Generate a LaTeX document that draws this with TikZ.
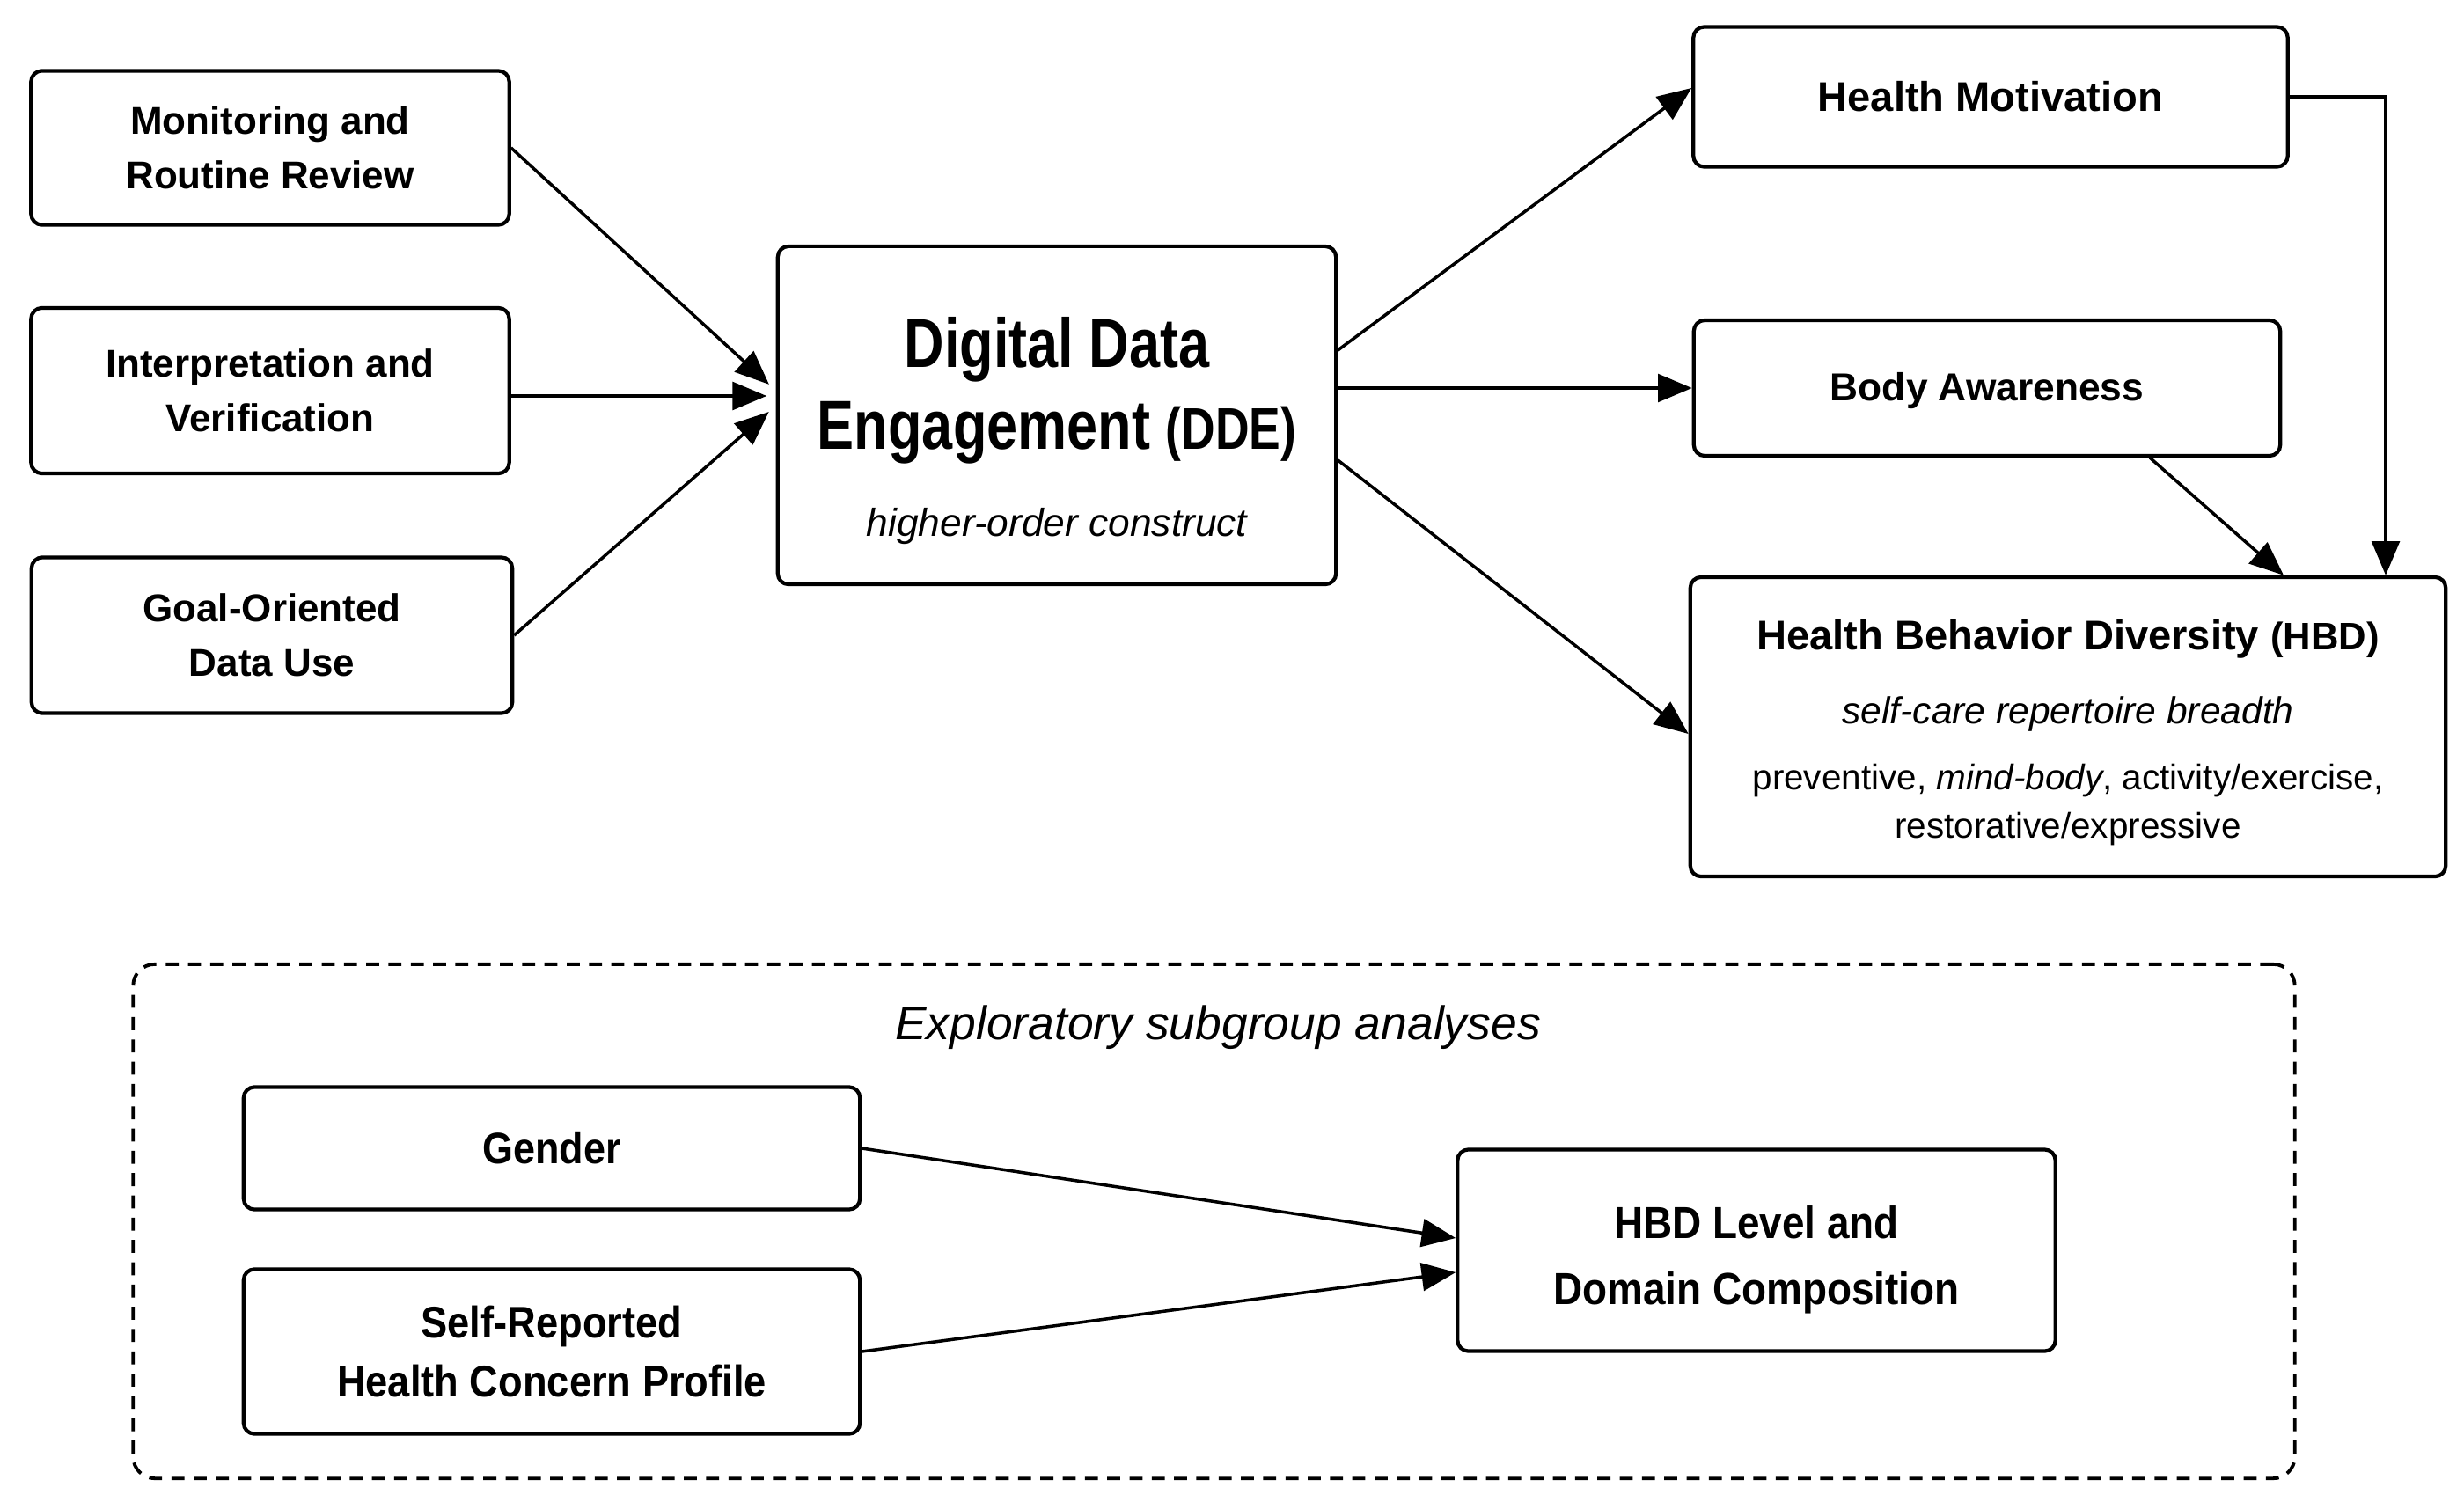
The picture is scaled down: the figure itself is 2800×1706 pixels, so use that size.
\documentclass[tikz,border=0pt]{standalone}
\usepackage{fontspec}
\setmainfont{Liberation Sans}
\newfontfamily\condfont{Liberation Sans}[FakeStretch=0.8]
\newfontfamily\semicond{Liberation Sans}[FakeStretch=0.9]
\usetikzlibrary{arrows.meta,calc}
\begin{document}
\begin{tikzpicture}[x=0.01cm,y=-0.01cm,
  box/.style={draw, line width=1.2pt, rounded corners=3.5pt, align=center, inner sep=0pt, fill=white},
  lbl/.style={font=\fontsize{12.5}{17.5}\selectfont\bfseries},
  conn/.style={line width=1pt, -{Triangle[length=11pt,width=9pt]}},
  grpframe/.style={draw, line width=1.1pt, dash pattern=on 4.2pt off 3pt, rounded corners=7pt, inner sep=0pt},
  txt/.style={inner sep=0pt, anchor=base}]
\path[use as bounding box, fill=white] (0,0) rectangle (2800,1706);

% left inputs
\node[box, lbl, minimum width=5.43cm, minimum height=1.75cm] (mon) at (307,168) {Monitoring and\\Routine Review};
\node[box, lbl, minimum width=5.43cm, minimum height=1.88cm] (interp) at (307,444) {Interpretation and\\Verification};
\node[box, lbl, minimum width=5.46cm, minimum height=1.77cm] (goal) at (309,722) {Goal-Oriented\\Data Use};

% DDE
\node[box, minimum width=6.34cm, minimum height=3.84cm] (dde) at (1201,472) {};
\node[txt, font=\condfont\bfseries\fontsize{22.4}{26}\selectfont] (ddet1) at (1201,417) {Digital Data};
\node[txt, font=\condfont\bfseries\fontsize{22.4}{26}\selectfont] (ddet2) at (1201,510) {Engagement {\fontsize{19}{26}\selectfont(DDE)}};
\node[txt, font=\itshape\fontsize{12.6}{15}\selectfont] (ddes) at (1201,609) {higher-order construct};

% right outcomes
\node[box, font=\fontsize{13.4}{16}\selectfont\bfseries, minimum width=6.75cm, minimum height=1.59cm] (hm) at (2262,110) {Health Motivation};
\node[box, minimum width=6.66cm, minimum height=1.54cm] (ba) at (2258,441) {};
\node[txt, font=\fontsize{12.6}{16}\selectfont\bfseries] (bat) at (2258,455) {Body Awareness};

\node[box, minimum width=8.58cm, minimum height=3.40cm] (hbd) at (2350,826) {};
\node[txt, font=\fontsize{13.4}{16}\selectfont\bfseries] (hbdt) at (2350,738) {Health Behavior Diversity {\fontsize{12.4}{16}\selectfont(HBD)}};
\node[txt, font=\itshape\fontsize{12.1}{15}\selectfont] (hbds) at (2350,822) {self-care repertoire breadth};
\node[txt, font=\fontsize{11.5}{14}\selectfont] (hbdd1) at (2350,897) {preventive, \textit{mind-body}, activity/exercise,};
\node[txt, font=\fontsize{11.5}{14}\selectfont] (hbdd2) at (2350,952) {restorative/expressive};

% subgroup frame
\node[grpframe, minimum width=24.55cm, minimum height=5.84cm] (grp) at (1379.5,1388) {};
\node[txt, font=\itshape\fontsize{15.2}{18}\selectfont] (grpt) at (1384,1181) {Exploratory subgroup analyses};

\node[box, font=\semicond\bfseries\fontsize{14.2}{20}\selectfont, minimum width=7.00cm, minimum height=1.39cm] (gender) at (627,1305) {Gender};
\node[box, font=\semicond\bfseries\fontsize{14.3}{19}\selectfont, minimum width=7.00cm, minimum height=1.87cm] (sr) at (627,1536) {Self-Reported\\Health Concern Profile};
\node[box, minimum width=6.79cm, minimum height=2.29cm] (hbdl) at (1996,1421) {};
\node[txt, font=\semicond\bfseries\fontsize{14.5}{21.3}\selectfont] (hbdl1) at (1996,1407) {HBD Level and};
\node[txt, font=\semicond\bfseries\fontsize{14.5}{21.3}\selectfont] (hbdl2) at (1996,1482) {Domain Composition};

% connectors into DDE
\draw[conn, shorten >=3pt] (mon.east) -- ($(dde.west)+(0,-28)$);
\draw[conn, shorten >=3pt] ($(interp.east)+(0,6)$) -- ($(dde.west)+(0,-22)$);
\draw[conn, shorten >=3pt] (goal.east) -- ($(dde.west)+(0,-11)$);

% connectors out of DDE
\draw[conn] ($(dde.east)+(0,-74)$) -- ($(hm.west)+(0,-10)$);
\draw[conn] (dde.east |- ba.west) -- (ba.west);
\draw[conn] ($(dde.east)+(0,51)$) -- ($(hbd.west)+(0,8)$);

% mediators to HBD
\coordinate (hmturn) at (2711,110);
\draw[conn] (hm.east) -- (hmturn) -- (hmturn |- hbd.north);
\draw[conn] ($(ba.south)+(185,0)$) -- ($(hbd.north)+(245,0)$);

% subgroup connectors
\draw[conn] (gender.east) -- ($(hbdl.west)+(0,-14)$);
\draw[conn] (sr.east) -- ($(hbdl.west)+(0,25)$);
\end{tikzpicture}
\end{document}
